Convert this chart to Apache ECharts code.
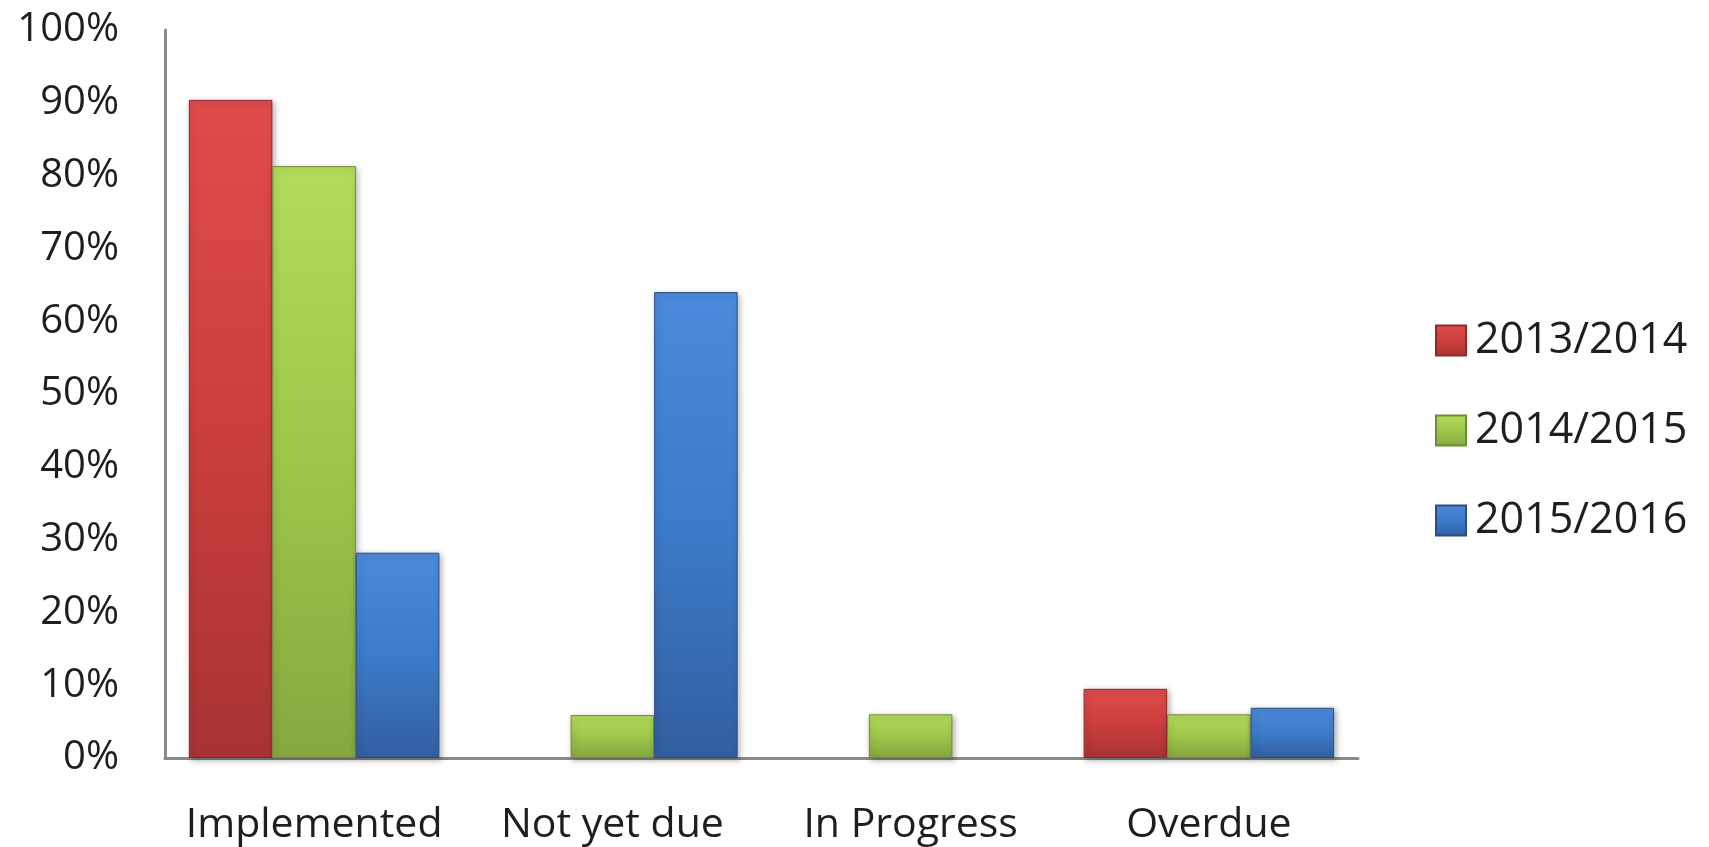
<!DOCTYPE html>
<html>
<head>
<meta charset="utf-8">
<script src="https://cdn.jsdelivr.net/npm/echarts@6/dist/echarts.min.js"></script>
<style>
html,body{margin:0;padding:0;background:#fff;}
#chart{width:1709px;height:847px;}
</style>
</head>
<body>
<div id="chart"></div>
<script>
const categories = ['Implemented', 'Not yet due', 'In Progress', 'Overdue'];
const seriesNames = ['2013/2014', '2014/2015', '2015/2016'];
const values2013 = [90.4, 0, 0, 9.5];
const values2014 = [81.3, 5.9, 6.0, 6.0];
const values2015 = [28.2, 64.0, 0, 6.9];
const yTicks = [0, 10, 20, 30, 40, 50, 60, 70, 80, 90, 100];

const palettes = [
  { top: '#E04B4B', mid: '#CC3E3E', bot: '#A83333', edge: '#8E2A2A' },
  { top: '#B3DB5C', mid: '#9EC64A', bot: '#86A83F', edge: '#6F8C33' },
  { top: '#4A8ADA', mid: '#3C7BC9', bot: '#325FA0', edge: '#284E85' }
];

function grad(p) {
  return new echarts.graphic.LinearGradient(0, 0, 0, 1, [
    { offset: 0, color: p.top },
    { offset: 0.5, color: p.mid },
    { offset: 1, color: p.bot }
  ]);
}

const chart = echarts.init(document.getElementById('chart'), null, { renderer: 'canvas' });
const dataSets = [values2013, values2014, values2015];
const fontFamily = '"Open Sans", "DejaVu Sans", sans-serif';

chart.setOption({
  animation: false,
  backgroundColor: '#ffffff',
  grid: { left: 165, right: 351, top: 30, bottom: 89, containLabel: false },
  legend: {
    orient: 'vertical',
    left: 1430,
    top: 314,
    itemWidth: 30,
    itemHeight: 30,
    itemGap: 47,
    icon: 'rect',
    textStyle: { fontFamily: fontFamily, fontSize: 43, color: '#1e1e1e', padding: [0, 0, 0, 4] },
    data: seriesNames
  },
  xAxis: {
    type: 'category',
    data: categories,
    axisLine: { show: true, lineStyle: { color: '#8a8a8a', width: 3 } },
    axisTick: { show: false },
    axisLabel: { interval: 0, fontFamily: fontFamily, fontSize: 41, color: '#1e1e1e', margin: 47 },
    splitLine: { show: false }
  },
  yAxis: {
    type: 'value',
    min: yTicks[0],
    max: yTicks[yTicks.length - 1],
    interval: 10,
    axisLine: { show: true, lineStyle: { color: '#8a8a8a', width: 3 } },
    axisTick: { show: false },
    splitLine: { show: false },
    axisLabel: { fontFamily: fontFamily, fontSize: 40, color: '#1e1e1e', margin: 46, formatter: '{value}%', padding: [6, 0, 0, 0] }
  },
  series: seriesNames.map((name, i) => ({
    name: name,
    type: 'bar',
    data: dataSets[i].map(v => (v === 0 ? '-' : v)),
    barGap: '0%',
    barCategoryGap: '16%',
    itemStyle: {
      color: grad(palettes[i]),
      borderColor: palettes[i].edge,
      borderWidth: 1,
      shadowColor: 'rgba(0,0,0,0.3)',
      shadowBlur: 6,
      shadowOffsetX: 2,
      shadowOffsetY: 2
    }
  }))
});
</script>
</body>
</html>
